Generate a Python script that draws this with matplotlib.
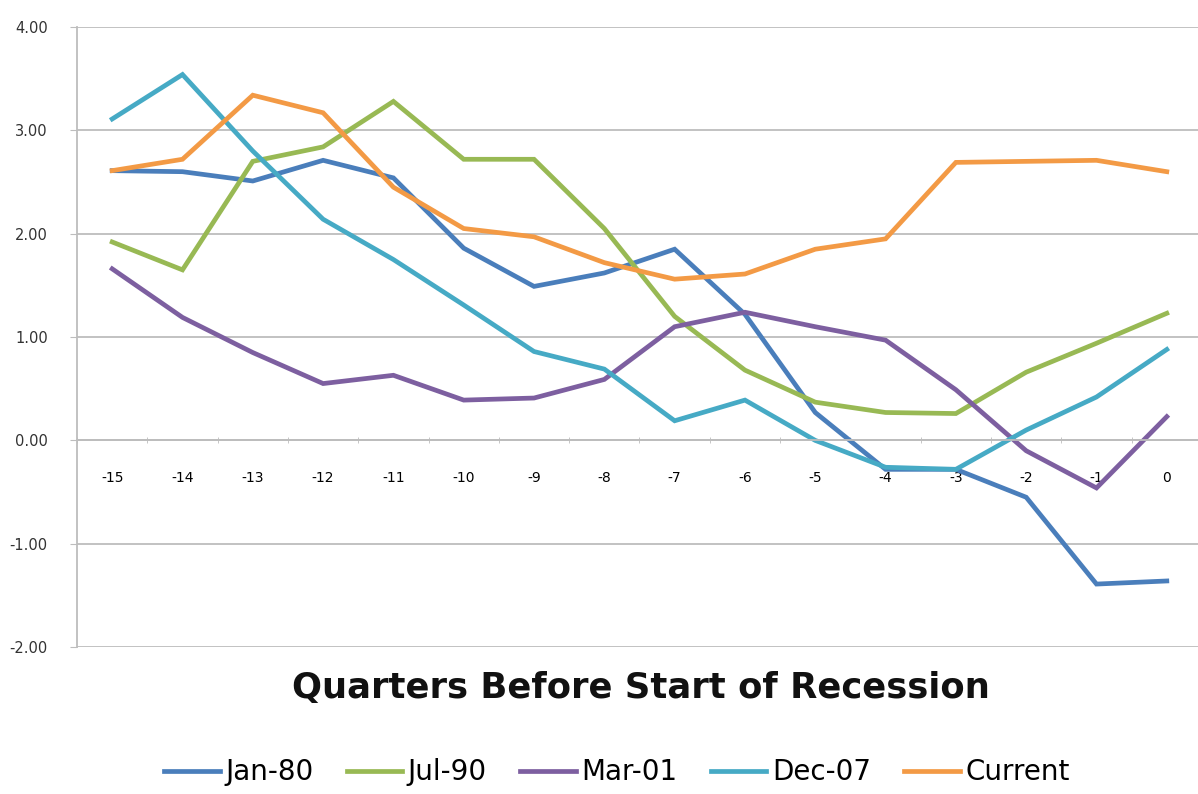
import numpy as np
import matplotlib.pyplot as plt

quarters = list(range(-15, 1))
jan80 = [2.61, 2.60, 2.51, 2.71, 2.54, 1.86, 1.49, 1.62, 1.85, 1.22, 0.27, -0.28, -0.28, -0.55, -1.39, -1.36]
jul90 = [1.92, 1.65, 2.70, 2.84, 3.28, 2.72, 2.72, 2.05, 1.20, 0.68, 0.37, 0.27, 0.26, 0.66, 0.94, 1.23]
mar01 = [1.66, 1.19, 0.85, 0.55, 0.63, 0.39, 0.41, 0.59, 1.10, 1.24, 1.10, 0.97, 0.49, -0.10, -0.46, 0.23]
dec07 = [3.11, 3.54, 2.80, 2.14, 1.75, 1.31, 0.86, 0.69, 0.19, 0.39, 0.00, -0.26, -0.28, 0.10, 0.42, 0.88]
current = [2.61, 2.72, 3.34, 3.17, 2.45, 2.05, 1.97, 1.72, 1.56, 1.61, 1.85, 1.95, 2.69, 2.70, 2.71, 2.60]

labels = ["Jan-80", "Jul-90", "Mar-01", "Dec-07", "Current"]
colors = ["#4A7EBB", "#98B954", "#7D5FA0", "#46AAC5", "#F39A45"]
series = [jan80, jul90, mar01, dec07, current]

fig = plt.figure(figsize=(11.98, 7.94), dpi=100)
ax = fig.add_axes([0.0643, 0.185, 0.939, 0.781])

for vals, lab, col in zip(series, labels, colors):
    ax.plot(quarters, vals, color=col, lw=3.4, label=lab, solid_joinstyle="miter")

ax.set_xlim(-15.5, 0.5)
ax.set_ylim(-2, 4)
ax.set_yticks(np.arange(-2, 4.01, 1))
ax.set_yticklabels([f"{v:.2f}" for v in np.arange(-2, 4.01, 1)], fontsize=10.5, color="#333333")
ax.yaxis.grid(True, color="#BDBDBD", lw=1.3)
ax.set_axisbelow(True)

ax.set_xticks(quarters)
ax.set_xticklabels([str(q) for q in quarters], fontsize=10, color="#333333")
ax.set_xticks(np.arange(-15.5, 0.6, 1), minor=True)
ax.tick_params(axis="x", which="major", length=0, pad=22)
ax.tick_params(axis="x", which="minor", length=5, color="#BDBDBD", direction="inout")
ax.tick_params(axis="y", length=5, color="#BDBDBD", pad=16)

ax.spines["bottom"].set_position(("data", 0))
ax.spines["bottom"].set_color("#BDBDBD")
ax.spines["bottom"].set_linewidth(1.3)
ax.spines["left"].set_color("#BDBDBD")
ax.spines["left"].set_linewidth(1.3)
ax.spines["top"].set_visible(False)
ax.spines["right"].set_visible(False)

fig.text(0.535, 0.133, "Quarters Before Start of Recession", ha="center", va="center",
         fontsize=25.5, fontweight="bold", color="#111111")

fig.legend(loc="lower center", bbox_to_anchor=(0.515, -0.022), ncol=5, frameon=False,
           fontsize=20, handlelength=2.0, columnspacing=1.2, handletextpad=0.2)

fig.savefig("out.png", dpi=100, facecolor="white")
